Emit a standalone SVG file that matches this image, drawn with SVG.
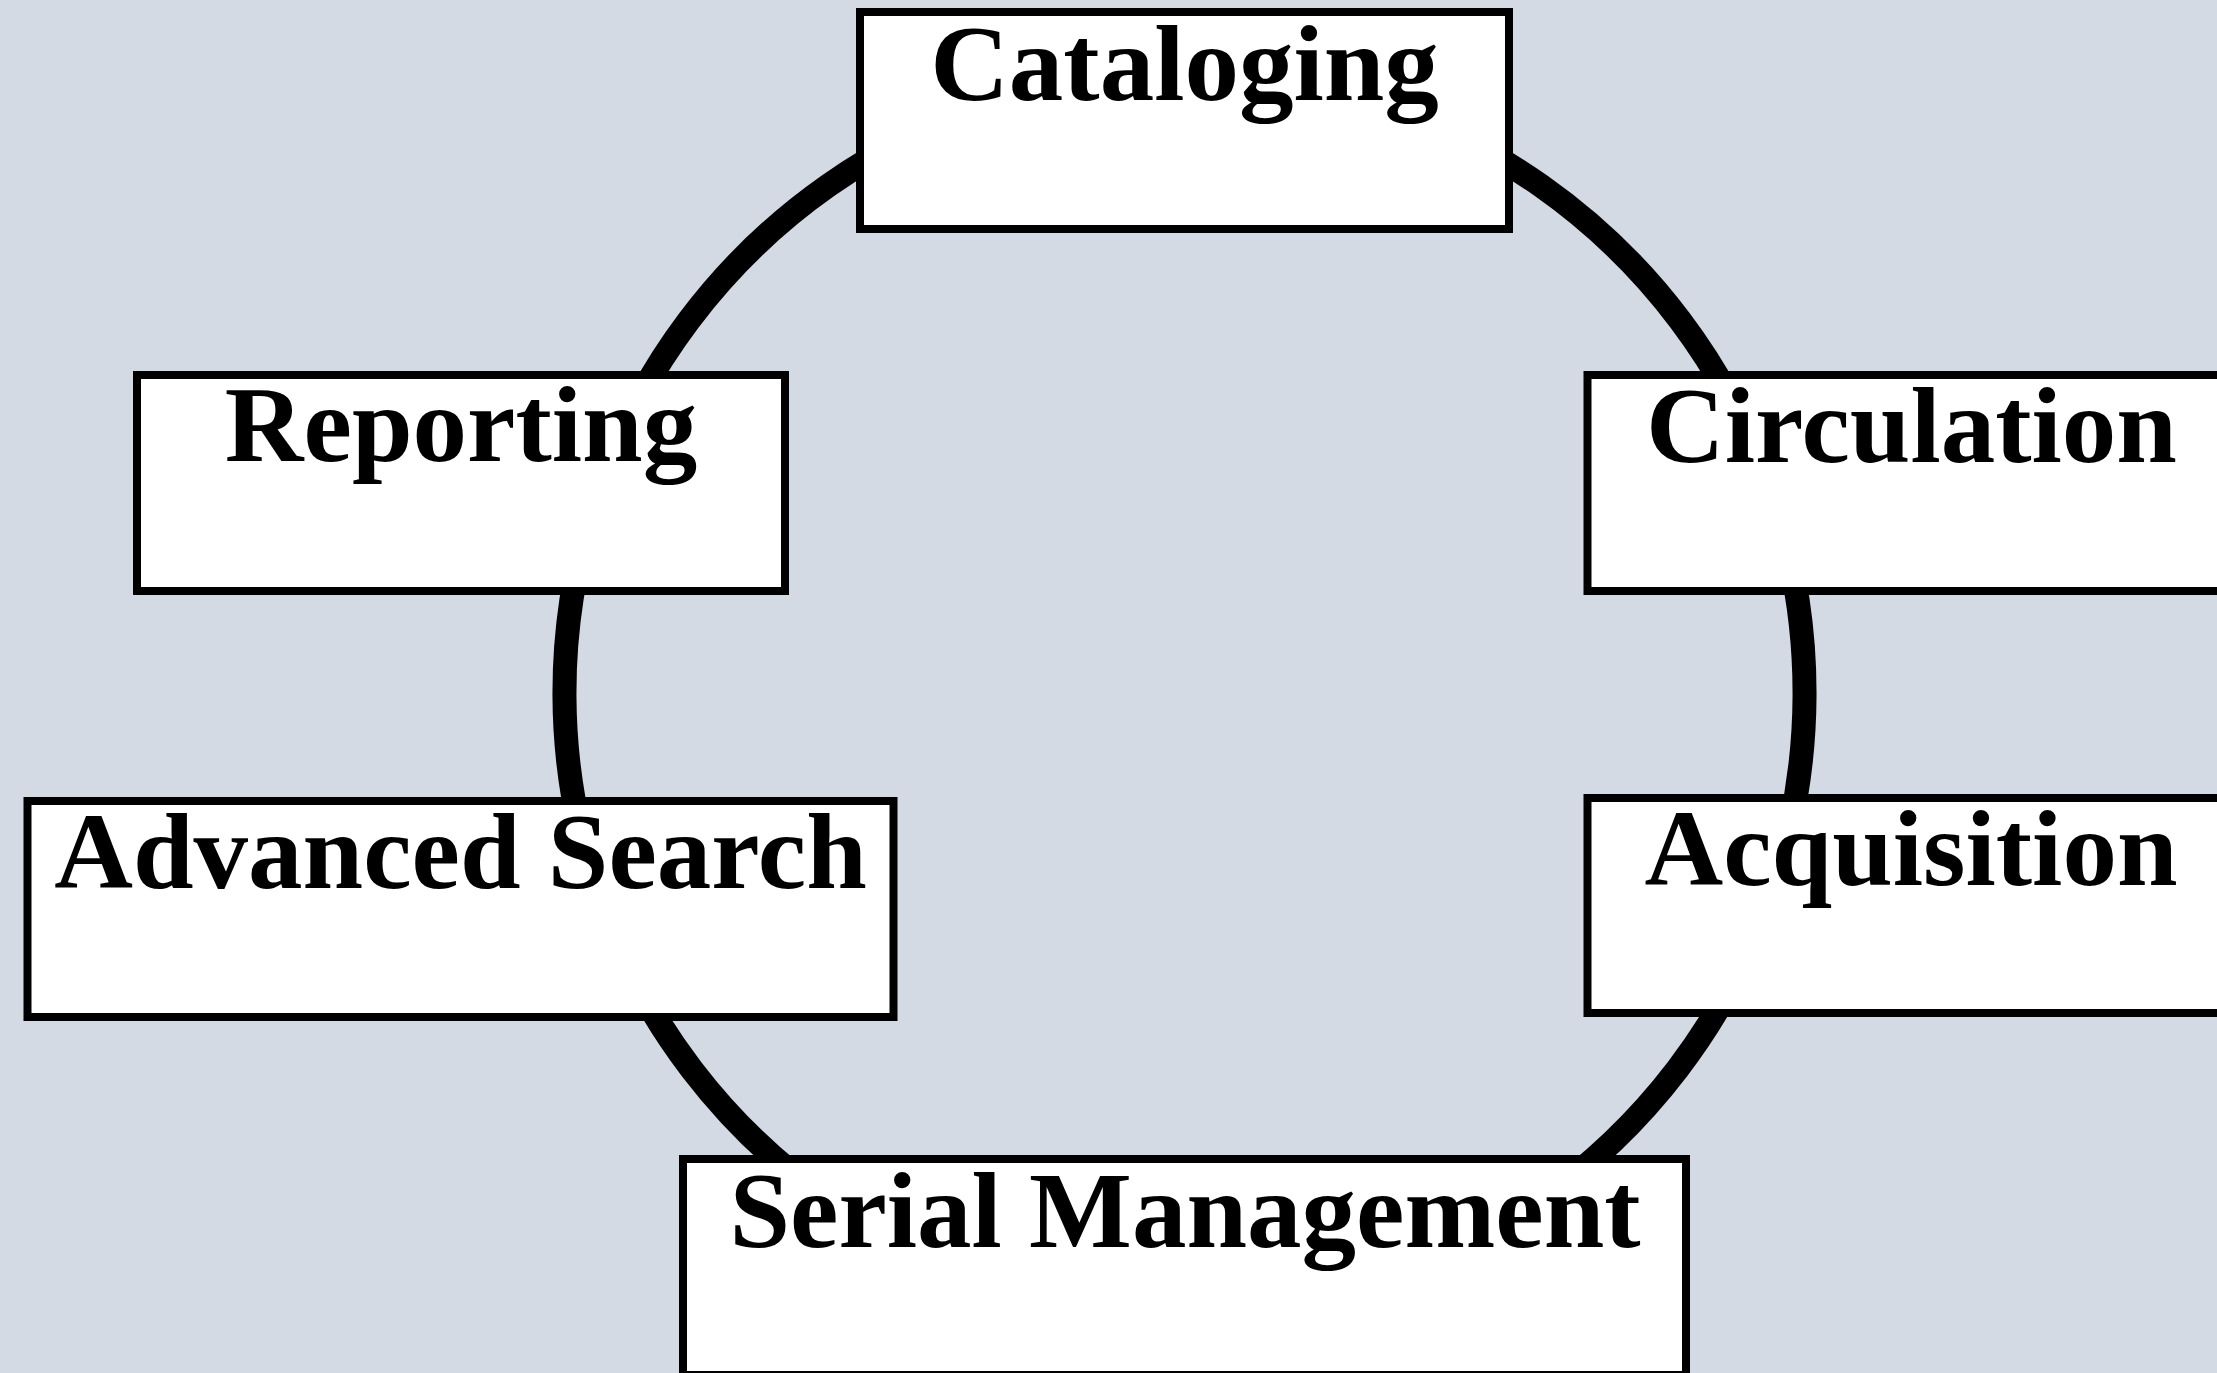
<svg xmlns="http://www.w3.org/2000/svg" width="2217" height="1373" viewBox="0 0 2217 1373">
<style>
.ring{fill:none;stroke:#000;stroke-width:24}
.box{fill:#fff;stroke:#000;stroke-width:8}
.lbl{font-family:"Liberation Serif","Times New Roman",serif;font-weight:bold;font-size:109px;fill:#000;text-anchor:middle}
</style>
<rect x="0" y="0" width="2217" height="1373" fill="#D3DAE3"/>
<g id="connectors">
<path class="ring" d="M1184.5,73 A620,620 0 0 1 1767.9,483"/>
<path class="ring" d="M1767.9,483 A620,620 0 0 1 1765.7,909"/>
<path class="ring" d="M1765.7,909 A620,620 0 0 1 1184.5,1313"/>
<path class="ring" d="M1184.5,1313 A620,620 0 0 1 603.3,909"/>
<path class="ring" d="M603.3,909 A620,620 0 0 1 601.1,483"/>
<path class="ring" d="M601.1,483 A620,620 0 0 1 1184.5,73"/>
</g>
<g id="cataloging">
<rect class="box" x="860" y="12" width="649" height="217"/>
<text class="lbl" x="1184.5" y="100">Cataloging</text>
</g>
<g id="reporting">
<rect class="box" x="137" y="375" width="648" height="216"/>
<text class="lbl" x="461" y="461">Reporting</text>
</g>
<g id="circulation">
<rect class="box" x="1587.5" y="375" width="648" height="216"/>
<text class="lbl" x="1911.5" y="462">Circulation</text>
</g>
<g id="advanced-search">
<rect class="box" x="27.5" y="801" width="866" height="216"/>
<text class="lbl" x="460.5" y="888">Advanced Search</text>
</g>
<g id="acquisition">
<rect class="box" x="1587.5" y="798" width="648" height="215"/>
<text class="lbl" x="1911" y="885">Acquisition</text>
</g>
<g id="serial-management">
<rect class="box" x="683" y="1159" width="1003" height="216"/>
<text class="lbl" x="1185" y="1247">Serial Management</text>
</g>
</svg>
